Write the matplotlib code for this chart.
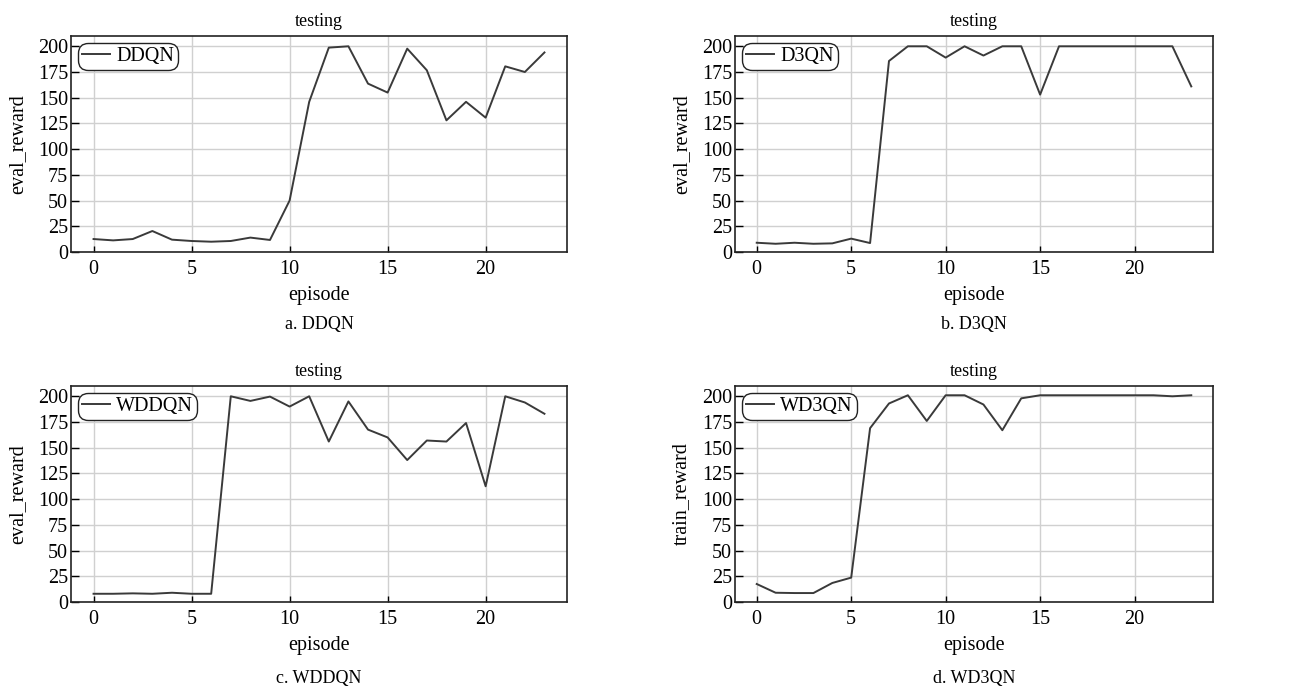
import matplotlib
matplotlib.use("Agg")
import matplotlib.pyplot as plt

plt.rcParams['font.family'] = ['Liberation Serif', 'DejaVu Serif']
plt.rcParams['mathtext.fontset'] = 'stix'

episodes = list(range(24))

ddqn = [12.6, 11.3, 12.6, 20.4, 12, 10.7, 10, 10.7, 14, 11.7, 50, 146,
        198.7, 200, 163.7, 155, 197.7, 176.7, 128, 146, 130.6, 180.5, 175, 194]
d3qn = [9, 8, 9, 8, 8.4, 13, 8.7, 185.7, 200, 200, 189, 200,
        191, 200, 200, 153, 200, 200, 200, 200, 200, 200, 200, 161]
wddqn = [8, 8, 8.4, 8, 9, 8, 8, 200, 195.5, 199.7, 190, 200,
         156, 195, 167.6, 160, 138, 157, 156, 174, 112.5, 200, 194, 183]
wd3qn = [17.5, 9, 8.7, 8.7, 18.5, 23.7, 169, 193, 201, 176, 201, 201,
         192, 167, 198, 201, 201, 201, 201, 201, 201, 201, 200, 201]

names = ['DDQN', 'D3QN', 'WDDQN', 'WD3QN']
captions = ['a. DDQN', 'b. D3QN', 'c. WDDQN', 'd. WD3QN']
ylabels = ['eval_reward', 'eval_reward', 'eval_reward', 'train_reward']
series = [ddqn, d3qn, wddqn, wd3qn]

W, H = 1295, 689
fig = plt.figure(figsize=(W / 100, H / 100), dpi=100)

# pixel boxes: left, right, top, bottom
boxes = [(71, 567, 36, 252), (735, 1213, 36, 252),
         (71, 567, 386, 602), (735, 1213, 386, 602)]
caption_y = [325, 678]

for i, (l, r, t, b) in enumerate(boxes):
    ax = fig.add_axes([l / W, (H - b) / H, (r - l) / W, (b - t) / H])
    ax.plot(episodes, series[i], color='#3a3a3a', lw=1.4, label=names[i])
    ax.set_xlim(-1.15, 24.15)
    ax.set_ylim(0, 210)
    ax.set_yticks([0, 25, 50, 75, 100, 125, 150, 175, 200])
    ax.set_xticks([0, 5, 10, 15, 20])
    ax.grid(True, color='#d0d0d0', lw=1)
    ax.set_axisbelow(True)
    ax.tick_params(direction='in', labelsize=14.5, width=1,
                   top=False, right=False)
    ax.tick_params(axis='y', length=6, pad=2)
    ax.tick_params(axis='x', length=4, pad=6)
    for s in ax.spines.values():
        s.set_linewidth(1.2)
        s.set_color('#222222')
    ax.set_title('testing', fontsize=13, pad=7)
    ax.set_xlabel('episode', fontsize=14.5, labelpad=5)
    ax.set_ylabel(ylabels[i], fontsize=14.5, labelpad=8)
    leg = ax.legend(loc='upper left', fontsize=14.5, handlelength=1.4,
                    handletextpad=0.3, borderpad=0.2, borderaxespad=0.35,
                    fancybox=True, framealpha=1)
    fr = leg.get_frame()
    fr.set_edgecolor('#222222')
    fr.set_linewidth(1.0)
    fr.set_boxstyle('round,pad=0,rounding_size=0.5')
    cx = (l + r) / 2 / W
    cy = (H - caption_y[i // 2]) / H
    fig.text(cx, cy, captions[i], ha='center', va='center', fontsize=13)

fig.savefig('out.png', dpi=100)
